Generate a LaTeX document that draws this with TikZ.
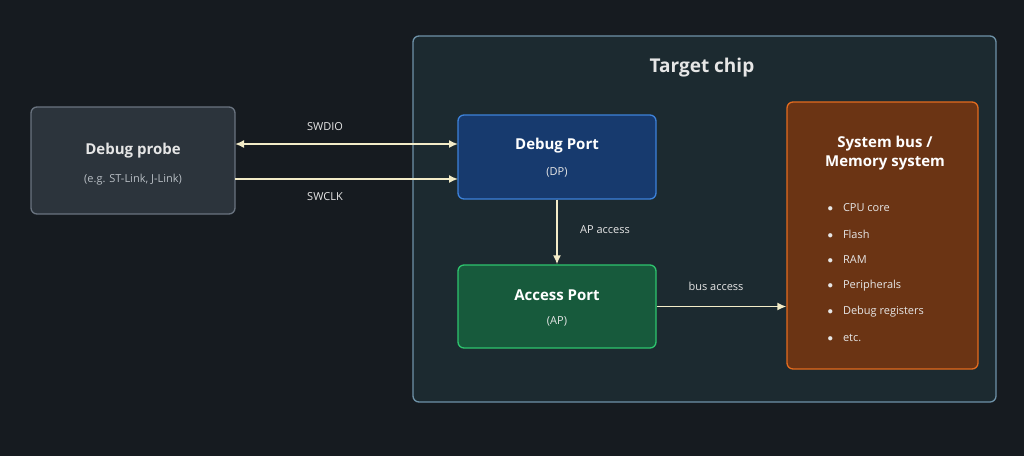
\documentclass[tikz,border=0pt]{standalone}
\usepackage{fontspec}
\setmainfont{Open Sans}
\usetikzlibrary{arrows.meta}
\definecolor{bg}{HTML}{161B20}
\definecolor{chipfill}{HTML}{1C2A30}
\definecolor{chipline}{HTML}{6E92A8}
\definecolor{probefill}{HTML}{2C343C}
\definecolor{probeline}{HTML}{6A7480}
\definecolor{dpfill}{HTML}{173A6E}
\definecolor{dpline}{HTML}{3D82DA}
\definecolor{apfill}{HTML}{175A3C}
\definecolor{apline}{HTML}{2EC46E}
\definecolor{sysfill}{HTML}{6B3414}
\definecolor{sysline}{HTML}{E36B1E}
\definecolor{arr}{HTML}{F3ECC8}
\definecolor{txt}{HTML}{E6E6E6}
\definecolor{sub}{HTML}{B8BEC4}
\tikzset{
 box/.style={draw, rounded corners=6pt, line width=1.3pt, inner sep=0pt},
 conn/.style={draw=arr, line width=1.6pt, -{Latex[length=9pt,width=8pt]}},
 lbl/.style={text=txt, font=\fontsize{11}{13}\selectfont},
}
\begin{document}
\begin{tikzpicture}[x=1pt,y=-1pt]
\fill[bg] (0,0) rectangle (1024,456);
\useasboundingbox (0,0) rectangle (1024,456);
\node[box, draw=chipline, fill=chipfill, minimum width=583pt, minimum height=366pt] (chip) at (704.5,219) {};
\node[text=txt, font=\bfseries\fontsize{19}{22}\selectfont] (chipt) at (702,68) {Target chip};
\node[box, draw=probeline, fill=probefill, minimum width=204pt, minimum height=107pt, align=center] (probe) at (133,160.5) {};
\node[text=txt, font=\bfseries\fontsize{15}{18}\selectfont] (probet) at (133,151) {Debug probe};
\node[text=sub, font=\fontsize{11}{13}\selectfont] (probes) at (133,180) {(e.g. ST-Link, J-Link)};
\node[box, draw=dpline, fill=dpfill, minimum width=198pt, minimum height=84pt] (dp) at (557,157) {};
\node[text=white, font=\bfseries\fontsize{15}{18}\selectfont] (dpt) at (557,146) {Debug Port};
\node[text=txt, font=\fontsize{11}{13}\selectfont] (dps) at (557,172) {(DP)};
\node[box, draw=apline, fill=apfill, minimum width=198pt, minimum height=83pt] (ap) at (557,306.5) {};
\node[text=white, font=\bfseries\fontsize{15}{18}\selectfont] (apt) at (557,295) {Access Port};
\node[text=txt, font=\fontsize{11}{13}\selectfont] (aps) at (557,321) {(AP)};
\node[box, draw=sysline, fill=sysfill, minimum width=191pt, minimum height=267pt] (sys) at (882.5,235.5) {};
\node[text=white, font=\bfseries\fontsize{15}{19}\selectfont, align=center] (syst) at (885,153) {System bus /\\Memory system};
\foreach \t [count=\i] in {CPU core,Flash,RAM,Peripherals,Debug registers,etc.}{
 \node[text=txt, font=\fontsize{11}{13}\selectfont, anchor=west] (it\i) at (824,182+26*\i) {$\bullet$\hspace{10pt}\t};
}
\coordinate (a1) at (235,144); \coordinate (b1) at (458,144);
\coordinate (a2) at (235,179); \coordinate (b2) at (458,179);
\draw[conn, {Latex[length=9pt,width=8pt]}-{Latex[length=9pt,width=8pt]}] (a1) -- (b1);
\draw[conn] (a2) -- (b2);
\node[lbl] (l1) at (325,127) {SWDIO};
\node[lbl] (l2) at (325,197) {SWCLK};
\draw[conn] (dp.south) -- (ap.north);
\node[lbl] (l3) at (605,230) {AP access};
\draw[conn] (ap.east) -- (sys.west |- ap.east);
\node[lbl] (l4) at (716,286) {bus access};
\end{tikzpicture}
\end{document}
